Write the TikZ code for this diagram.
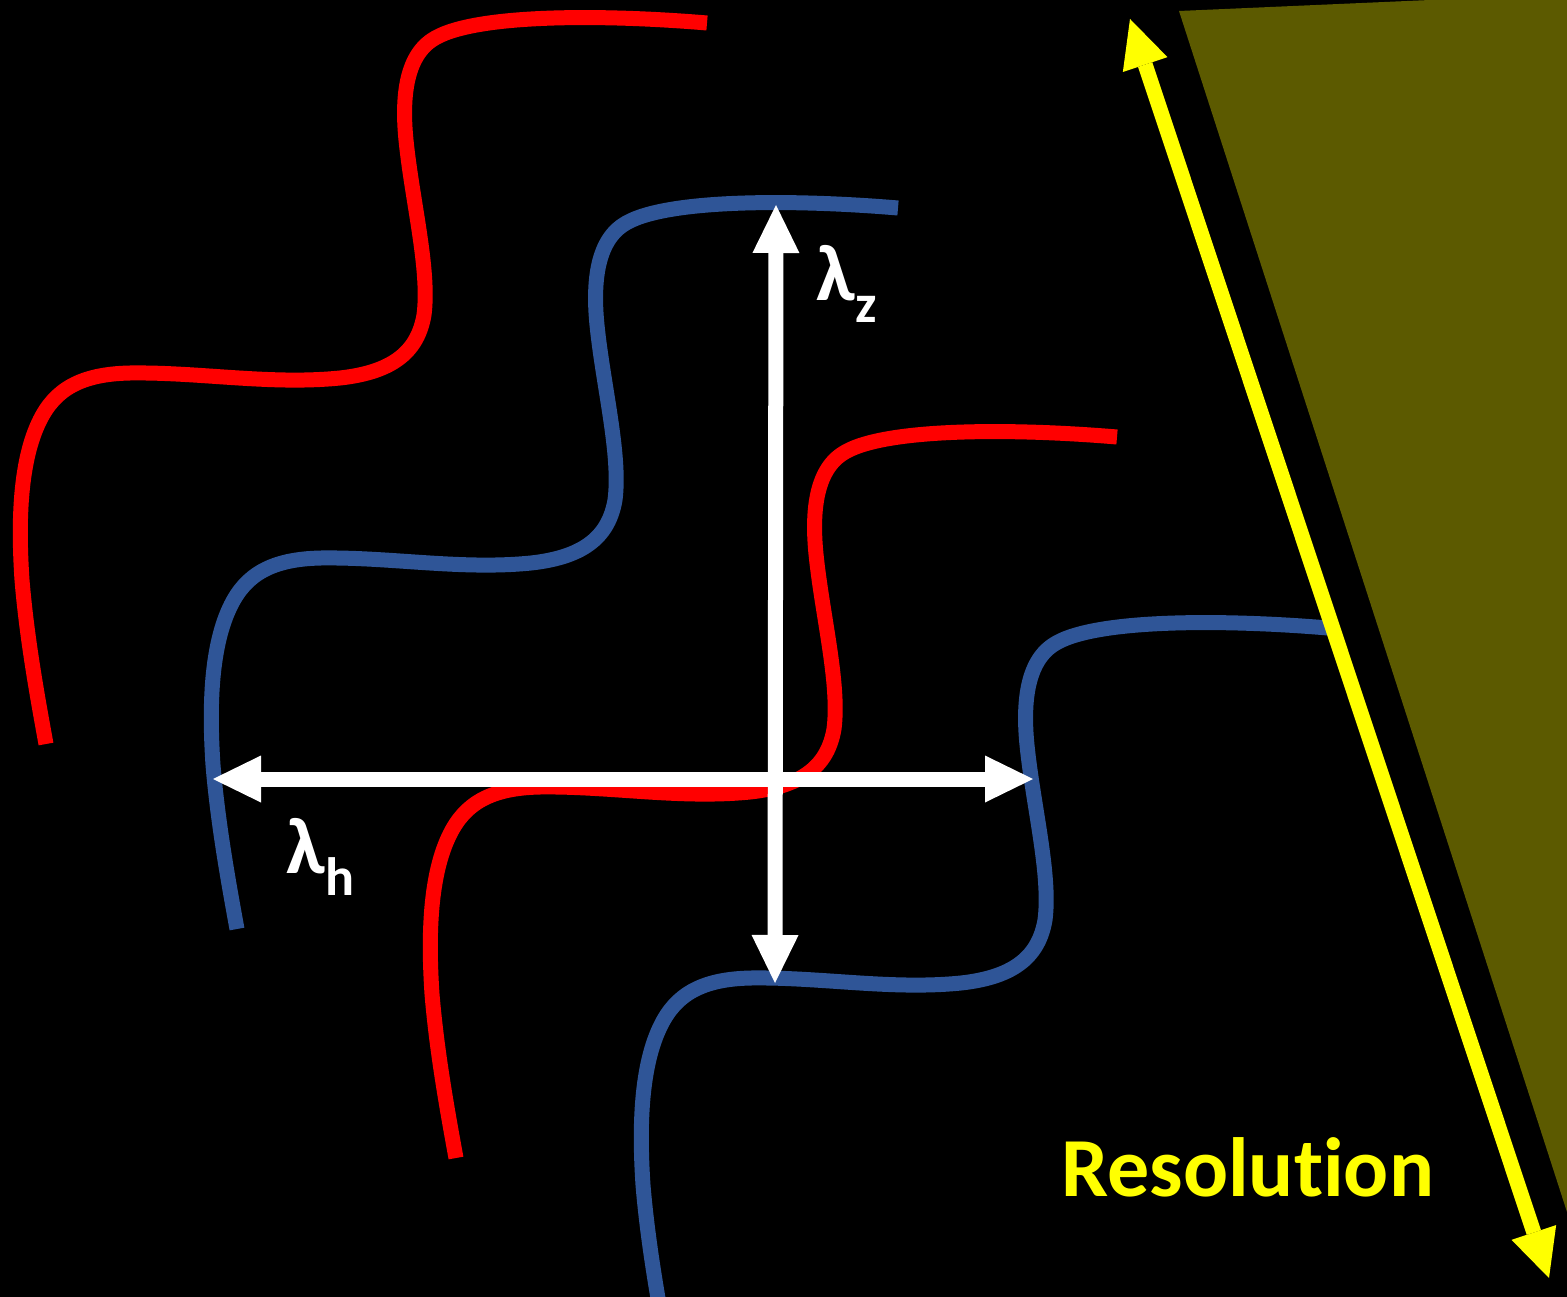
\documentclass[tikz,border=0pt]{standalone}
\usepackage{fontspec}
\setmainfont{Carlito}[Ligatures={NoCommon}]
\usetikzlibrary{arrows.meta}
\definecolor{wred}{RGB}{255,0,0}
\definecolor{wblue}{RGB}{47,85,151}
\definecolor{olivebg}{RGB}{92,90,0}
\definecolor{ylw}{RGB}{255,255,0}
\tikzset{
  curve/.style={line width=15pt},
  dblarrow/.style={line width=15pt,
    {Triangle[width=47pt,length=48pt,line width=0pt]}-{Triangle[width=47pt,length=48pt,line width=0pt]}},
  lbl/.style={inner sep=0pt, text=white, font=\fontsize{80}{80}\selectfont\bfseries}
}
\begin{document}
\begin{tikzpicture}[x=1pt,y=-1pt]
\fill[black] (0,0) rectangle (1567,1297);
\useasboundingbox (0,0) rectangle (1567,1297);
\clip (0,0) rectangle (1567,1297);
% olive wedge
\fill[olivebg] (1179,11) -- (1567,-6) -- (1567,1212) -- cycle;
% wave curves
\foreach \sx/\sy/\col in {707/23/wred, 1117/437/wred, 898/208/wblue, 1328/628/wblue}
  \draw[curve, draw=\col, shift={(\sx,\sy)}] (0,0)
    .. controls (-107,-9) and (-237,-9) .. (-275,17)
    .. controls (-302,35) and (-305,77) .. (-301,117)
    .. controls (-295,177) and (-277,247) .. (-283,292)
    .. controls (-289,327) and (-312,349) .. (-367,355)
    .. controls (-437,362) and (-507,349) .. (-577,350)
    .. controls (-627,351) and (-652,367) .. (-667,397)
    .. controls (-687,437) and (-689,497) .. (-685,557)
    .. controls (-680,617) and (-669,677) .. (-661,721);
% white arrows
\coordinate (zt) at (776,205);
\coordinate (zb) at (775,983);
\coordinate (hl) at (213,779);
\coordinate (hr) at (1033,779);
\draw[dblarrow, white] (zt) -- (zb);
\draw[dblarrow, white] (hl) -- (hr);
% yellow arrow
\coordinate (yt) at (1130,19);
\coordinate (yb) at (1549,1278);
\draw[dblarrow, ylw] (yt) -- (yb);
% labels
\node[lbl, anchor=base west] (lz) at (816,301) {λ\raisebox{-22pt}{\fontsize{54}{54}\selectfont z}};
\node[lbl, anchor=base west] (lh) at (286,873) {λ\raisebox{-22pt}{\fontsize{54}{54}\selectfont h}};
\node[inner sep=0pt, anchor=base west, text=ylw, font=\fontsize{84}{84}\selectfont\bfseries] (res) at (1061,1196) {Resolut\kern0pt ion};
\end{tikzpicture}
\end{document}
